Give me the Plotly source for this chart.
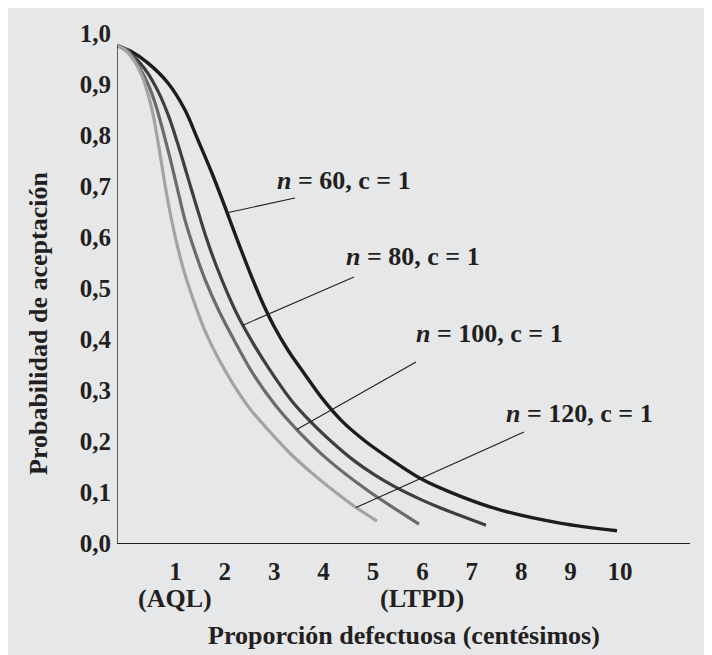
import numpy as np
import plotly.graph_objects as go

# ---- data ----
p60 = [0, 0.263, 0.628, 1.032, 1.377, 1.640, 1.923, 2.186, 2.429, 2.672, 2.915, 3.178, 3.462, 3.786, 4.150, 4.555, 5.021, 5.527, 6.134, 6.944, 7.753, 8.968, 10.122]
v60 = [0.976, 0.965, 0.941, 0.902, 0.849, 0.790, 0.725, 0.659, 0.596, 0.535, 0.478, 0.425, 0.378, 0.333, 0.284, 0.239, 0.200, 0.165, 0.127, 0.092, 0.065, 0.039, 0.024]

p80 = [0, 0.263, 0.567, 0.830, 1.053, 1.255, 1.437, 1.620, 1.802, 2.004, 2.227, 2.470, 2.753, 3.097, 3.543, 3.968, 4.373, 4.778, 5.223, 5.668, 6.134, 6.539, 7.470]
v80 = [0.976, 0.961, 0.929, 0.886, 0.835, 0.775, 0.716, 0.657, 0.600, 0.545, 0.492, 0.441, 0.392, 0.339, 0.278, 0.233, 0.196, 0.163, 0.133, 0.108, 0.086, 0.069, 0.035]

p100 = [0, 0.223, 0.425, 0.628, 0.790, 0.931, 1.073, 1.215, 1.377, 1.579, 1.802, 2.065, 2.348, 2.733, 3.199, 3.644, 4.251, 5.061, 6.114]
v100 = [0.976, 0.965, 0.937, 0.900, 0.857, 0.808, 0.755, 0.698, 0.633, 0.571, 0.512, 0.455, 0.402, 0.335, 0.271, 0.222, 0.165, 0.104, 0.037]

p120 = [0, 0.182, 0.364, 0.506, 0.628, 0.729, 0.810, 0.891, 0.972, 1.073, 1.194, 1.356, 1.559, 1.781, 2.045, 2.348, 2.692, 3.077, 3.502, 3.947, 4.393, 4.818, 5.263]
v120 = [0.976, 0.965, 0.943, 0.916, 0.880, 0.841, 0.798, 0.751, 0.702, 0.649, 0.594, 0.533, 0.473, 0.416, 0.363, 0.312, 0.263, 0.220, 0.176, 0.137, 0.102, 0.071, 0.043]

series_names = ["n = 60, c = 1", "n = 80, c = 1", "n = 100, c = 1", "n = 120, c = 1"]
series_labels = ["<i>n</i> = 60, c = 1", "<i>n</i> = 80, c = 1", "<i>n</i> = 100, c = 1", "<i>n</i> = 120, c = 1"]
label_anchor_p = [2.23, 2.55, 3.64, 4.84]   # where each leader line touches its curve

x_tickvals = [1, 2, 3, 4, 5, 6, 7, 8, 9, 10]
x_ticktext = ["1", "2", "3", "4", "5", "6", "7", "8", "9", "10"]
y_tickvals = [0.0, 0.1, 0.2, 0.3, 0.4, 0.5, 0.6, 0.7, 0.8, 0.9, 1.0]
y_ticktext = ["0,0", "0,1", "0,2", "0,3", "0,4", "0,5", "0,6", "0,7", "0,8", "0,9", "1,0"]
x_notes = {1: "(AQL)", 6: "(LTPD)"}
x_title = "Proporción defectuosa (centésimos)"
y_title = "Probabilidad de aceptación"

# ---- styling ----
OFF = 8                       # page body margin in the browser
W, H = 712 - OFF, 655 - OFF
ML, MR, MT, MB = 109, 22, 25, 112
PW, PH = W - ML - MR, H - MT - MB
XMAX, YMAX = 11.6, 1.0
FONT = "Liberation Serif"
TXT = "#231f20"
BG = "#e6e7e8"
colors = ["#1f1b1c", "#3f3f40", "#6a6b6d", "#a2a3a5"]
widths = [3.4, 3.2, 3.2, 3.2]
# leader-line outer ends and label left/middle points, in page pixels
leader_tail_px = [(295, 198), (354, 277), (416, 362), (524, 432)]
label_pos_px = [(275, 180), (344, 257), (414, 333), (504, 413)]
TFS = 26   # text font size
KFS = 25   # tick font size

curves = [(p60, v60), (p80, v80), (p100, v100), (p120, v120)]


def to_page(p, v):
    return (ML + OFF + p * PW / XMAX, MT + OFF + PH - v * PH / YMAX)


fig = go.Figure()
for (px, vy), name, c, w in zip(curves, series_names, colors, widths):
    fig.add_trace(go.Scatter(x=px, y=vy, mode="lines", name=name,
                             line=dict(color=c, width=w, shape="spline", smoothing=0.9),
                             showlegend=False, hoverinfo="skip"))

shapes = []
# y axis line from 0 up to the curves' start
shapes.append(dict(type="line", xref="x", yref="y", x0=0, x1=0, y0=0, y1=v60[0],
                   line=dict(color=TXT, width=1.4)))

annotations = []
for (px, vy), lab, ap, (tx, ty), (lx, ly) in zip(curves, series_labels, label_anchor_p,
                                                 leader_tail_px, label_pos_px):
    av = float(np.interp(ap, px, vy))
    ax_pg, ay_pg = to_page(ap, av)
    shapes.append(dict(type="line", xref="x", yref="y", xsizemode="pixel", ysizemode="pixel",
                       xanchor=ap, yanchor=av, x0=0, y0=0, x1=tx - ax_pg, y1=-(ty - ay_pg),
                       line=dict(color=TXT, width=1.1)))
    annotations.append(dict(x=ap, y=av, xref="x", yref="y", text=lab, showarrow=False,
                            xanchor="left", yanchor="middle",
                            xshift=lx - ax_pg, yshift=-(ly - ay_pg),
                            font=dict(family=FONT, size=TFS, color=TXT, weight="bold")))

for xv, t in x_notes.items():
    annotations.append(dict(x=xv, y=0, xref="x", yref="paper", text=t, showarrow=False,
                            xanchor="center", yanchor="middle", xshift=9, yshift=-55,
                            font=dict(family=FONT, size=TFS, color=TXT, weight="bold")))

annotations.append(dict(x=0.5, y=0, xref="paper", yref="paper", text=x_title, showarrow=False,
                        xanchor="center", yanchor="middle", yshift=-92,
                        font=dict(family=FONT, size=TFS, color=TXT, weight="bold")))
annotations.append(dict(x=0, y=(MT + PH - (324 - OFF)) / PH, xref="paper", yref="paper",
                        text=y_title, showarrow=False, textangle=-90,
                        xanchor="center", yanchor="middle", xshift=-79,
                        font=dict(family=FONT, size=TFS, color=TXT, weight="bold")))

fig.update_layout(
    width=W, height=H,
    margin=dict(l=ML, r=MR, t=MT, b=MB, pad=0),
    paper_bgcolor=BG, plot_bgcolor=BG,
    shapes=shapes, annotations=annotations,
    font=dict(family=FONT, size=TFS, color=TXT, weight="bold"),
)
fig.update_xaxes(range=[0, XMAX], showgrid=False, zeroline=False, showline=True,
                 linecolor=TXT, linewidth=1.4, ticks="", tickvals=x_tickvals, ticktext=x_ticktext,
                 ticklabelshift=9, ticklabelstandoff=6,
                 tickfont=dict(family=FONT, size=KFS, color=TXT, weight="bold"))
fig.update_yaxes(range=[0, YMAX], showgrid=False, zeroline=False, showline=False,
                 ticks="", tickvals=y_tickvals, ticktext=y_ticktext, ticklabelstandoff=5,
                 tickfont=dict(family=FONT, size=KFS, color=TXT, weight="bold"))

fig.write_html("out.html")
